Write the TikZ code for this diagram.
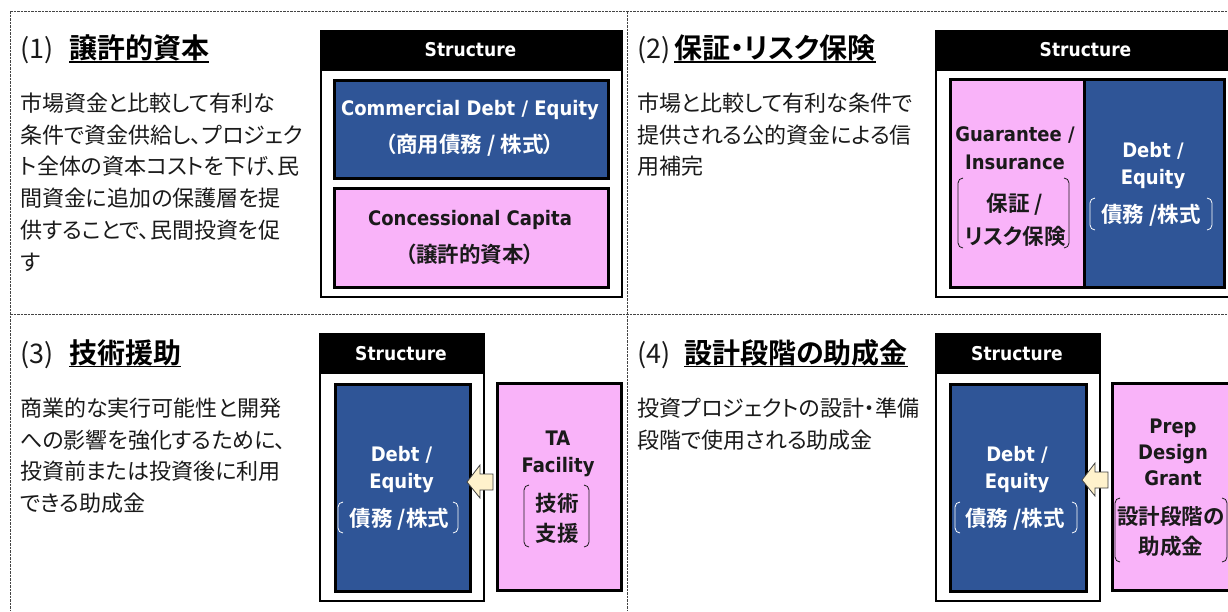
\documentclass[tikz,border=0pt]{standalone}
\usepackage{fontspec}
\newfontfamily\jp{Noto Sans CJK JP}[BoldFont={Noto Sans CJK JP Bold},RawFeature=+palt]
\newfontfamily\lat{DejaVu Sans}[FakeStretch=0.9]
\definecolor{bluebox}{HTML}{2F5597}
\definecolor{pinkbox}{HTML}{F9B3F9}
\definecolor{arrowfill}{HTML}{FFF2CC}
\definecolor{dashgray}{HTML}{444444}
\definecolor{ink}{HTML}{1A1A1A}
\newcommand\mybrk[5]{%
  \draw[#5, line width=0.8pt, rounded corners=5pt] ({#1+5},#2) -- (#1,#2) -- (#1,#4) -- ({#1+5},#4);
  \draw[#5, line width=0.8pt, rounded corners=5pt] ({#3-5},#2) -- (#3,#2) -- (#3,#4) -- ({#3-5},#4);}
\tikzset{
  dashline/.style={draw=dashgray, line width=1pt, dash pattern=on 2.5pt off 1pt},
  outerbox/.style={draw=black, line width=2pt, fill=white, inner sep=0, anchor=north west},
  headbox/.style={draw=black, line width=2pt, fill=black, inner sep=0, anchor=north west},
  bluebx/.style={draw=black, line width=2.5pt, fill=bluebox, inner sep=0, anchor=north west},
  pinkbx/.style={draw=black, line width=2.5pt, fill=pinkbox, inner sep=0, anchor=north west},
  body/.style={anchor=base west, inner sep=0, text=ink, font=\jp\fontsize{22}{25}\selectfont},
  titlenum/.style={anchor=base west, inner sep=0, text=ink, font=\jp\fontsize{27}{30}\selectfont},
  titletxt/.style={anchor=base west, inner sep=0, text=black, font=\jp\bfseries\fontsize{28}{30}\selectfont},
  headtxt/.style={anchor=base, inner sep=0, text=white, font=\lat\bfseries\fontsize{19}{22}\selectfont},
  latw/.style={anchor=base, inner sep=0, text=white, font=\lat\bfseries\fontsize{20}{24}\selectfont},
  latk/.style={anchor=base, inner sep=0, text=ink, font=\lat\bfseries\fontsize{20}{24}\selectfont},
  jpw/.style={anchor=base, inner sep=0, text=white, font=\jp\bfseries\fontsize{21.5}{24}\selectfont},
  jpk/.style={anchor=base, inner sep=0, text=ink, font=\jp\bfseries\fontsize{21.5}{24}\selectfont},
  blockarrow/.style={draw=black!75, line width=0.8pt, fill=arrowfill, line join=miter},
  uline/.style={line width=1.6pt, draw=black}
}
\begin{document}
\begin{tikzpicture}[x=1pt,y=-1pt]
\useasboundingbox (0,0) rectangle (1228,611);
\clip (0,0) rectangle (1228,611);
\fill[white] (0,0) rectangle (1228,611);

% dashed frame
\draw[dashline] (10,11) -- (1228,11);
\draw[dashline] (10,11) -- (10,611);
\draw[dashline] (10,314) -- (1228,314);
\draw[dashline] (627,11) -- (627,611);

% ---------- (1)
\node[titlenum] (n1) at (20,58.5) {(1)};
\node[titletxt] (t1) at (69,58.5) {譲許的資本};
\draw[uline] ([yshift=-3.5pt]t1.base west) -- ([yshift=-3.5pt]t1.base east);
\node[body] (a1) at (20,111.5) {市場資金と比較して有利な};
\node[body] (a2) at (20,143.2) {条件で資金供給し、プロジェク};
\node[body] (a3) at (20,174.9) {ト全体の資本コストを下げ、民};
\node[body] (a4) at (20,206.6) {間資金に追加の保護層を提};
\node[body] (a5) at (20,238.3) {供することで、民間投資を促};
\node[body] (a6) at (20,270.0) {す};

\node[outerbox, minimum width=301pt, minimum height=266pt] (o1) at (320,30) {};
\node[headbox, minimum width=301pt, minimum height=39pt] (h1) at (320,30) {};
\node[headtxt] (s1) at (470.5,56) {Structure};
\node[bluebx, minimum width=274pt, minimum height=98pt] (b1) at (333,79) {};
\node[pinkbx, minimum width=274pt, minimum height=99pt] (p1) at (333,187) {};
\node[latw] (b1a) at (470,115) {Commercial Debt / Equity};
\node[jpw] (b1b) at (470,152) {（商用債務 / 株式）};
\node[latk] (p1a) at (470,225) {Concessional Capita};
\node[jpk] (p1b) at (470,262) {（譲許的資本）};

% ---------- (2)
\node[titlenum] (n2) at (637,58.5) {(2)};
\node[titletxt] (t2) at (674,58.5) {保証・リスク保険};
\draw[uline] ([yshift=-3.5pt]t2.base west) -- ([yshift=-3.5pt]t2.base east);
\node[body] (c1) at (637,111.5) {市場と比較して有利な条件で};
\node[body] (c2) at (637,143.2) {提供される公的資金による信};
\node[body] (c3) at (637,174.9) {用補完};

\node[outerbox, minimum width=301pt, minimum height=266pt] (o2) at (935,30) {};
\node[headbox, minimum width=301pt, minimum height=39pt] (h2) at (935,30) {};
\node[headtxt] (s2) at (1085.5,56) {Structure};
\node[pinkbx, minimum width=134pt, minimum height=208pt] (p2) at (949,78) {};
\node[bluebx, minimum width=140pt, minimum height=208pt] (b2) at (1083,78) {};
\node[latk] (p2a) at (1015,141) {Guarantee /};
\node[latk] (p2b) at (1015,169) {Insurance};
\node[jpk] (p2c) at (1015,211) {保証 /};
\node[jpk] (p2d) at (1015,244) {リスク保険};
\mybrk{958}{178}{1069}{248}{ink}
\node[latw] (b2a) at (1153,157) {Debt /};
\node[latw] (b2b) at (1153,184) {Equity};
\node[jpw] (b2c) at (1151,222) {債務 /株式};
\mybrk{1090}{198}{1212}{230}{white}

% ---------- (3)
\node[titlenum] (n3) at (20,363) {(3)};
\node[titletxt] (t3) at (69,363) {技術援助};
\draw[uline] ([yshift=-3.5pt]t3.base west) -- ([yshift=-3.5pt]t3.base east);
\node[body] (d1) at (20,416.5) {商業的な実行可能性と開発};
\node[body] (d2) at (20,448.2) {への影響を強化するために、};
\node[body] (d3) at (20,479.9) {投資前または投資後に利用};
\node[body] (d4) at (20,511.6) {できる助成金};

\node[outerbox, minimum width=164pt, minimum height=267pt] (o3) at (319,333) {};
\node[headbox, minimum width=164pt, minimum height=39pt] (h3) at (319,333) {};
\node[headtxt] (s3) at (401,360) {Structure};
\node[bluebx, minimum width=135pt, minimum height=207pt] (b3) at (334,383) {};
\node[pinkbx, minimum width=124pt, minimum height=207pt] (p3) at (496,382) {};
\node[latw] (b3a) at (401.5,461) {Debt /};
\node[latw] (b3b) at (401.5,488) {Equity};
\node[jpw] (b3c) at (399.5,526) {債務 /株式};
\mybrk{338}{502}{458}{533}{white}
\node[latk] (p3a) at (558,445) {TA};
\node[latk] (p3b) at (558,472) {Facility};
\node[jpk] (p3c) at (557,511) {技術};
\node[jpk] (p3d) at (557,541) {支援};
\mybrk{524}{485}{589}{547}{ink}
\draw[blockarrow] (467,482) -- (480,465) -- (480,474) -- (493,474) -- (493,490) -- (480,490) -- (480,498) -- cycle;

% ---------- (4)
\node[titlenum] (n4) at (637,363) {(4)};
\node[titletxt] (t4) at (684,363) {設計段階の助成金};
\draw[uline] ([yshift=-3.5pt]t4.base west) -- ([yshift=-3.5pt]t4.base east);
\node[body] (e1) at (637,416.5) {投資プロジェクトの設計・準備};
\node[body] (e2) at (637,448.2) {段階で使用される助成金};

\node[outerbox, minimum width=164pt, minimum height=267pt] (o4) at (935,333) {};
\node[headbox, minimum width=164pt, minimum height=39pt] (h4) at (935,333) {};
\node[headtxt] (s4) at (1017,360) {Structure};
\node[bluebx, minimum width=136pt, minimum height=207pt] (b4) at (949,383) {};
\node[pinkbx, minimum width=124pt, minimum height=207pt] (p4) at (1111,382) {};
\node[latw] (b4a) at (1017,461) {Debt /};
\node[latw] (b4b) at (1017,488) {Equity};
\node[jpw] (b4c) at (1015,526) {債務 /株式};
\mybrk{955}{502}{1077}{533}{white}
\node[latk] (p4a) at (1173,433) {Prep};
\node[latk] (p4b) at (1173,459) {Design};
\node[latk] (p4c) at (1173,485) {Grant};
\node[jpk] (p4d) at (1171,524) {設計段階の};
\node[jpk] (p4e) at (1171,554) {助成金};
\mybrk{1115}{498}{1227}{562}{ink}
\draw[blockarrow] (1082,480) -- (1095,463) -- (1095,472) -- (1108,472) -- (1108,488) -- (1095,488) -- (1095,496) -- cycle;
\end{tikzpicture}
\end{document}
